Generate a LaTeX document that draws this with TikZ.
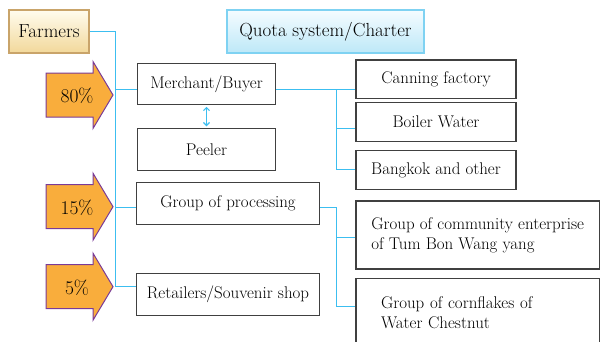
\documentclass[tikz,border=0pt]{standalone}
\usetikzlibrary{positioning, arrows.meta}
\definecolor{linkblue}{HTML}{3CBEF0}
\definecolor{boxgray}{HTML}{404040}
\definecolor{pctfill}{HTML}{F9AD3C}
\definecolor{pctedge}{HTML}{7A3B98}
\definecolor{farmedge}{HTML}{C9A46A}
\definecolor{farmtop}{HTML}{FFFCEE}
\definecolor{farmbot}{HTML}{F2D89A}
\definecolor{quotaedge}{HTML}{7FD2F2}
\definecolor{quotatop}{HTML}{F5FCFF}
\definecolor{quotabot}{HTML}{BDE8F8}

\tikzset{
    box/.style={draw=boxgray, line width=1.1bp, fill=white, inner sep=0pt,
        font=\fontsize{17}{20}\selectfont},
    headbox/.style={line width=1.1bp, inner sep=0pt, font=\fontsize{19}{22}\selectfont},
    link/.style={draw=linkblue, line width=1.5bp},
    pctarrow/.style={fill=pctfill, draw=pctedge, line width=1bp, line join=miter},
}

\begin{document}
\begin{tikzpicture}[x=1bp, y=-1bp]
        \useasboundingbox (0,0) rectangle (601,341);
        \node[headbox, draw=farmedge, top color=farmtop, bottom color=farmbot,
            minimum width=80bp, minimum height=43bp] (farmers) at (49,31.5) {Farmers};
        \node[headbox, draw=quotaedge, top color=quotatop, bottom color=quotabot,
            minimum width=197bp, minimum height=43bp] (quota) at (325.5,31.5) {Quota system/Charter};

        \node[box, minimum width=138.5bp, minimum height=41bp] (merchant) at (206.5,83.8) {Merchant/Buyer};
        \node[box, minimum width=138.5bp, minimum height=41.6bp, below=23.4bp of merchant] (peeler) {Peeler};
        \node[box, minimum width=182.6bp, minimum height=41.6bp] (process) at (228,203.5) {Group of processing};
        \node[box, minimum width=182.6bp, minimum height=42.4bp] (retail) at (228,294.5) {Retailers/Souvenir shop};

        \node[box, minimum width=160bp, minimum height=38.5bp] (canning) at (436,79.2) {Canning factory};
        \node[box, minimum width=160bp, minimum height=39bp, below=2.7bp of canning] (boiler) {Boiler Water};
        \node[box, minimum width=160bp, minimum height=38.5bp, below=8.3bp of boiler] (bangkok) {Bangkok and other};

        \node[box, minimum width=243.4bp, minimum height=68bp, align=left] (community) at (477.7,235)
            {Group of community enterprise\\of Tum Bon Wang yang};
        \node[box, minimum width=243.4bp, minimum height=68bp, align=left, inner xsep=25bp,
            text width=193.4bp, below=8.3bp of community] (cornflakes)
            {Group of cornflakes of\\Water Chestnut};

        \foreach \p/\y in {80/95, 15/206.7, 5/286.7} {
            \draw[pctarrow] (46,\y-22) -- (93,\y-22) -- (93,\y-33.5) -- (113,\y)
                -- (93,\y+33.5) -- (93,\y+22) -- (46,\y+22) -- cycle;
            \node[font=\fontsize{19.5}{22}\selectfont] (p\p) at (77,\y+1) {\p\%};
        }

        \coordinate (spine) at (115.5,0);
        \coordinate (rbus) at (336.5,0);
        \draw[link] (farmers.east) -| ([yshift=8bp]retail.west -| spine) -- ([yshift=8bp]retail.west);
        \draw[link] ([yshift=-5.7bp]merchant.west -| spine) -- ([yshift=-5.7bp]merchant.west);
        \draw[link] ([yshift=-4bp]process.west -| spine) -- ([yshift=-4bp]process.west);
        \draw[link, line width=1.1bp, {Straight Barb[length=3bp,width=6bp]}-{Straight Barb[length=3bp,width=6bp]},
            shorten <=2bp, shorten >=2bp] (merchant.south) -- (peeler.north);

        \draw[link] ([yshift=-5.7bp]merchant.east) -- ([yshift=-5.7bp]merchant.east -| canning.west);
        \draw[link] ([yshift=-5.7bp]merchant.east -| rbus) |- ([yshift=-6.85bp]boiler.west);
        \draw[link] ([yshift=-6.85bp]boiler.west -| rbus) |- ([yshift=0.2bp]bangkok.west);
        \draw[link] ([yshift=-4bp]process.east) -| ([yshift=5.8bp]cornflakes.west -| rbus)
            -- ([yshift=5.8bp]cornflakes.west);
        \draw[link] ([yshift=-2.5bp]community.west -| rbus) -- ([yshift=-2.5bp]community.west);
\end{tikzpicture}
\end{document}
